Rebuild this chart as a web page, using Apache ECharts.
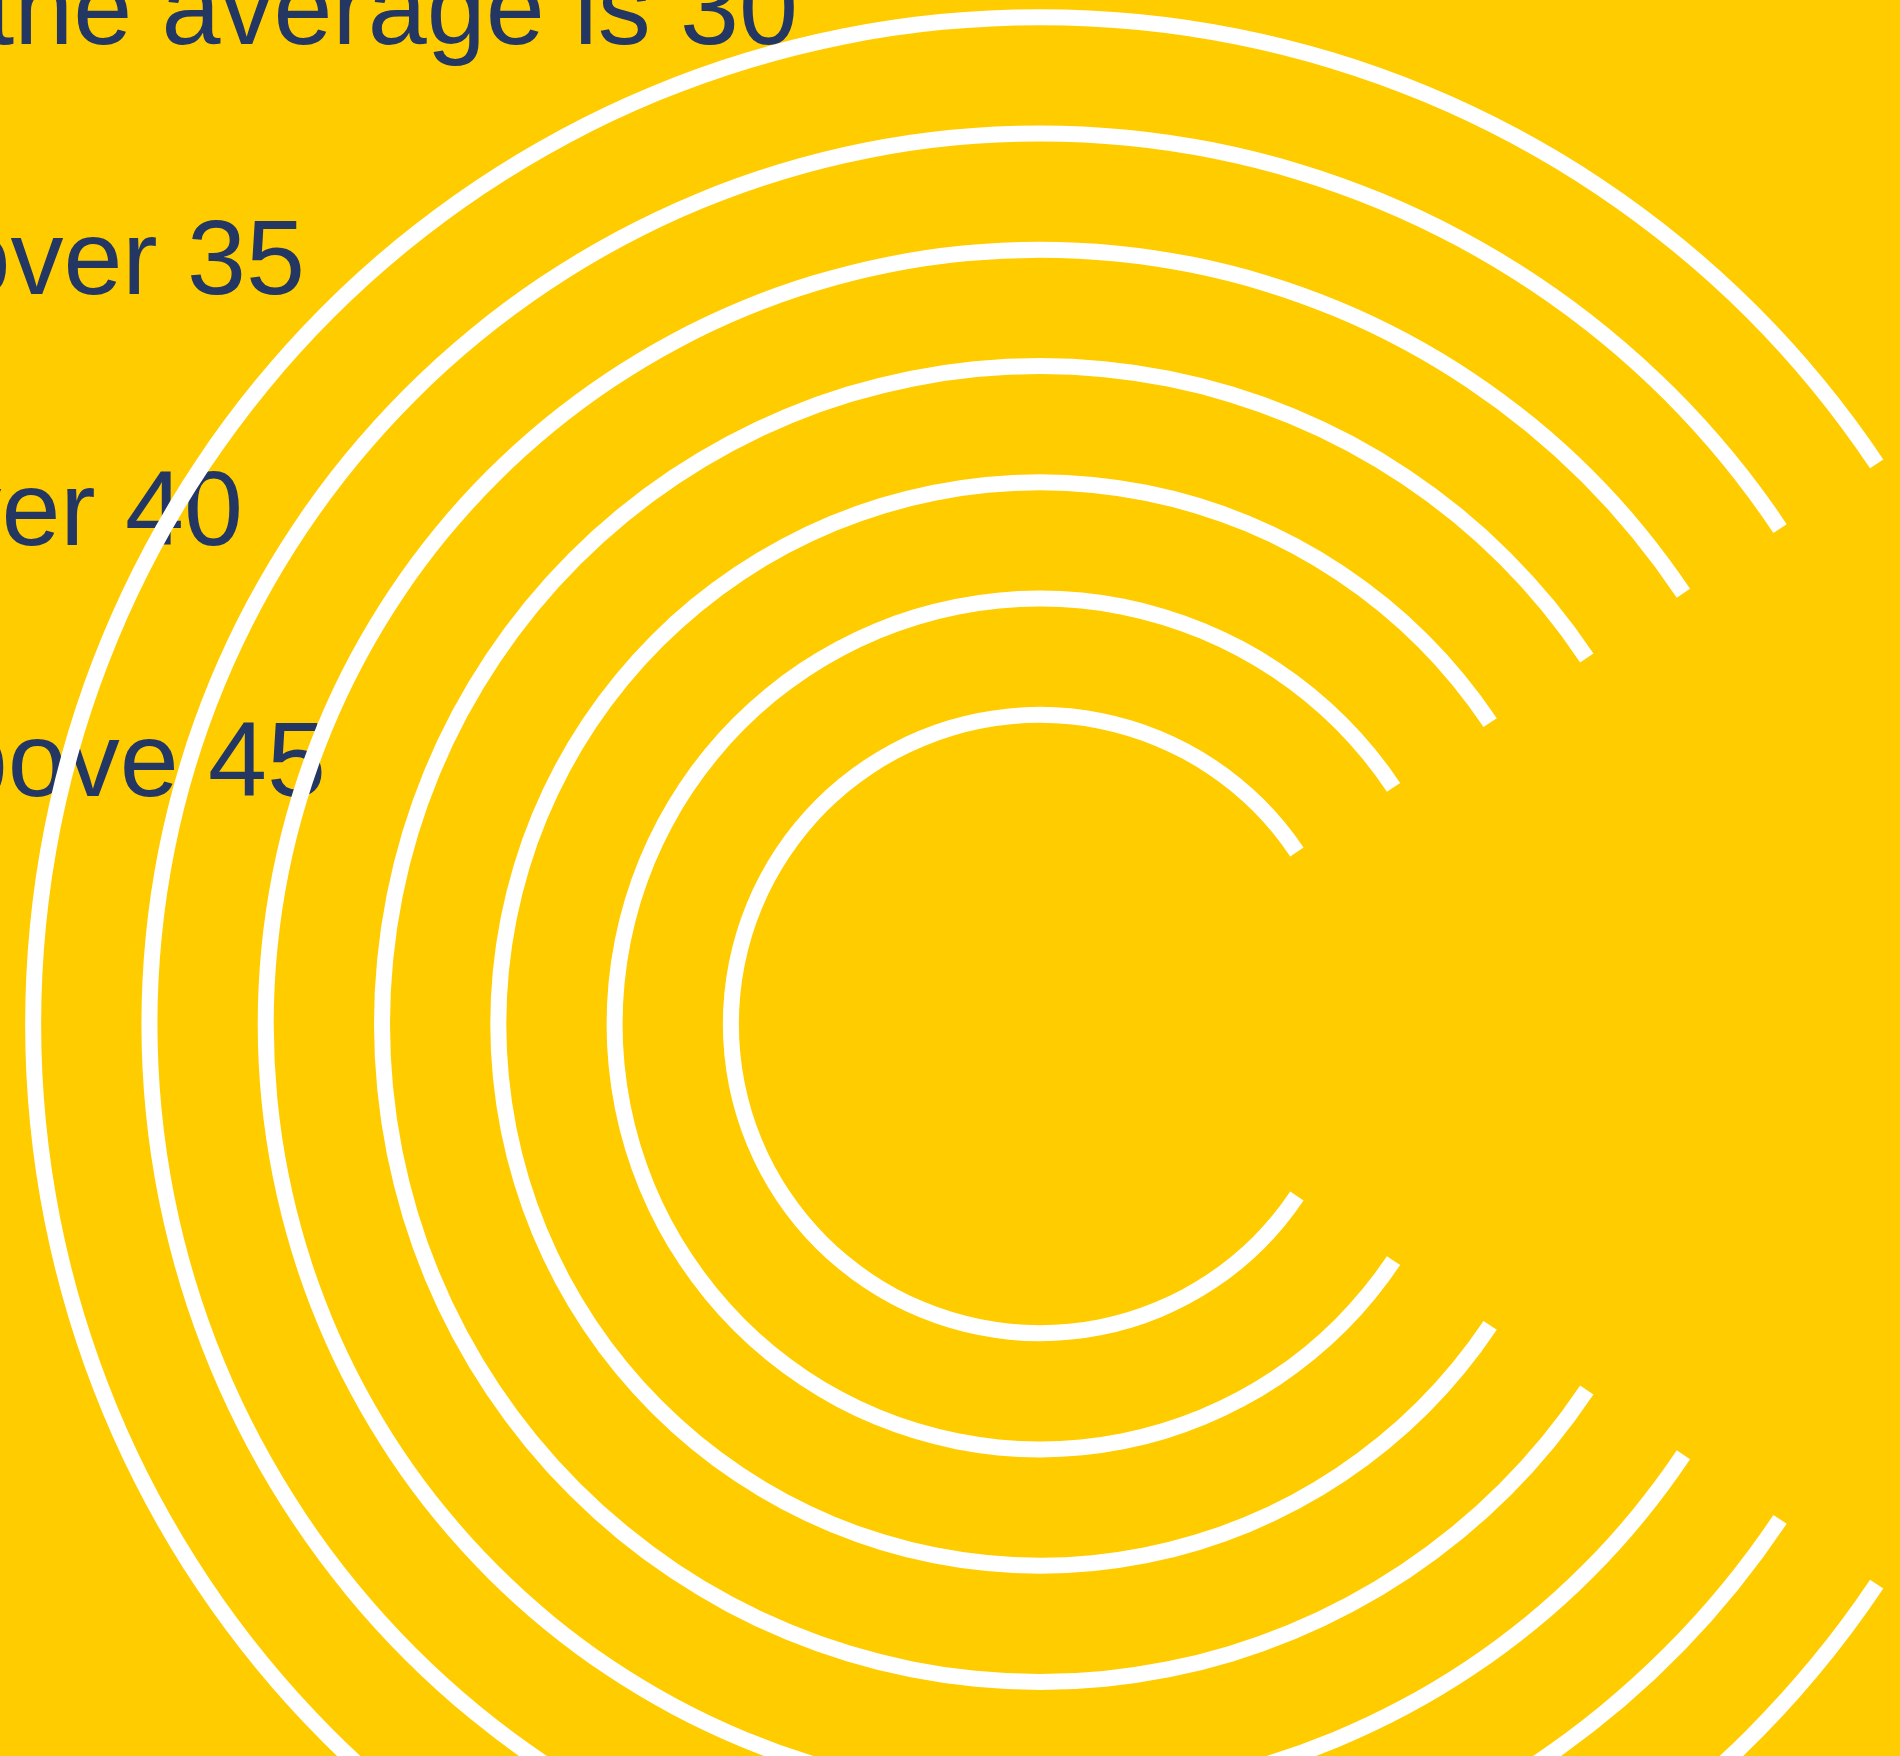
<!DOCTYPE html>
<html>
<head>
<meta charset="utf-8">
<style>
  html, body { margin: 0; padding: 0; background: #FFCC00; }
  #chart { width: 1900px; height: 1756px; }
</style>
<script src="https://cdn.jsdelivr.net/npm/echarts@6/dist/echarts.min.js"></script>
</head>
<body>
<div id="chart"></div>
<script>
// ---- data ----
const rings = ['Ring 1', 'Ring 2', 'Ring 3', 'Ring 4', 'Ring 5', 'Ring 6', 'Ring 7'];
const ringSweep = [292.4, 292.4, 292.4, 292.4, 292.4, 292.4, 292.4];
const angleMax = 360;
const captions = ['the average is 30', 'over 35', 'over 40', 'above 45'];

// ---- chart ----
const chart = echarts.init(document.getElementById('chart'), null, { renderer: 'canvas' });

const captionRight = [798, 305, 243, 326];
const captionBottom = [68, 318, 569, 820];

const option = {
  backgroundColor: '#FFCC00',
  animation: false,
  polar: {
    center: [1040, 1024],
    radius: [251, 1065]
  },
  angleAxis: {
    type: 'value',
    min: 0,
    max: angleMax,
    startAngle: 33.8,
    clockwise: false,
    show: false
  },
  radiusAxis: {
    type: 'category',
    data: rings,
    show: false
  },
  series: [{
    type: 'bar',
    coordinateSystem: 'polar',
    data: ringSweep,
    barWidth: 16,
    itemStyle: { color: '#FFFFFF' },
    silent: true
  }],
  graphic: captions.map((t, i) => ({
    type: 'text',
    x: captionRight[i],
    y: captionBottom[i],
    style: {
      text: t,
      fill: '#233762',
      font: '106px "Liberation Sans", Arial, sans-serif',
      textAlign: 'right',
      textVerticalAlign: 'bottom'
    }
  }))
};
chart.setOption(option);
</script>
</body>
</html>
